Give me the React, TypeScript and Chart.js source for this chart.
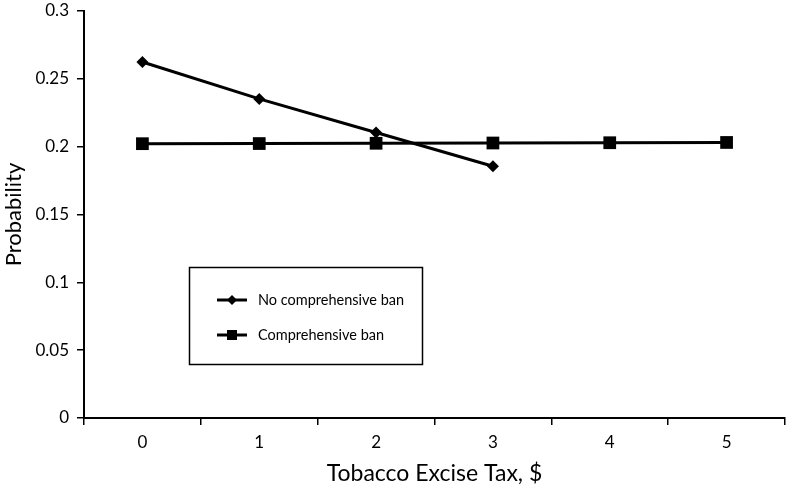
import React, { useEffect, useRef } from "react";
import { Chart, registerables } from "chart.js";

Chart.register(...registerables);

const categories = ["0", "1", "2", "3", "4", "5"];
const noBanValues: (number | null)[] = [0.2624, 0.2352, 0.2104, 0.1856, null, null];
const banValues = [0.2022, 0.2023, 0.2025, 0.2027, 0.2029, 0.2031];
const seriesLabels = ["No comprehensive ban", "Comprehensive ban"];
const xTitle = "Tobacco Excise Tax, $";
const yTitle = "Probability";

const FONT = "Lato, 'Open Sans', sans-serif";

const insideLegend = {
  id: "insideLegend",
  afterDraw(chart: any) {
    const ctx = chart.ctx;
    const x0 = 189, y0 = 267, w = 233, h = 97;
    ctx.save();
    ctx.fillStyle = "#fff";
    ctx.fillRect(x0, y0, w, h);
    ctx.strokeStyle = "#000";
    ctx.lineWidth = 1.5;
    ctx.strokeRect(x0 + 0.5, y0 + 0.5, w, h);
    chart.data.datasets.forEach((ds: any, i: number) => {
      const y = y0 + 33 + i * 35;
      ctx.strokeStyle = ds.borderColor;
      ctx.lineWidth = 3;
      ctx.beginPath();
      ctx.moveTo(x0 + 28, y);
      ctx.lineTo(x0 + 58, y);
      ctx.stroke();
      ctx.fillStyle = "#000";
      const cx = x0 + 43;
      if (i === 0) {
        const r = 5;
        ctx.beginPath();
        ctx.moveTo(cx, y - r);
        ctx.lineTo(cx + r, y);
        ctx.lineTo(cx, y + r);
        ctx.lineTo(cx - r, y);
        ctx.closePath();
        ctx.fill();
      } else {
        ctx.fillRect(cx - 5, y - 5, 10, 10);
      }
      ctx.font = `14.5px ${FONT}`;
      ctx.textBaseline = "middle";
      ctx.textAlign = "left";
      ctx.fillText(ds.label, x0 + 69, y);
    });
    ctx.restore();
  },
};

export default function App() {
  const ref = useRef<HTMLCanvasElement>(null);
  useEffect(() => {
    const chart = new Chart(ref.current!, {
      type: "line",
      data: {
        labels: categories,
        datasets: [
          {
            label: seriesLabels[0],
            data: noBanValues,
            borderColor: "#000",
            backgroundColor: "#000",
            borderWidth: 3,
            pointStyle: "rectRot",
            pointRadius: 6,
            pointBorderWidth: 0,
            tension: 0,
            spanGaps: false,
          },
          {
            label: seriesLabels[1],
            data: banValues,
            borderColor: "#000",
            backgroundColor: "#000",
            borderWidth: 3,
            pointStyle: "rect",
            pointRadius: 9,
            pointBorderWidth: 0,
            tension: 0,
          },
        ],
      },
      options: {
        animation: false,
        responsive: false,
        layout: { autoPadding: false, padding: { top: 11, right: 2, left: 1, bottom: -4 } },
        plugins: { legend: { display: false }, tooltip: { enabled: false } },
        scales: {
          x: {
            offset: true,
            afterFit: (s: any) => {
              s.paddingLeft = 0;
              s.paddingRight = 0;
            },
            grid: {
              offset: true,
              drawOnChartArea: false,
              drawTicks: true,
              tickLength: 7,
              color: "#000",
              lineWidth: 1.5,
            },
            border: { color: "#000", width: 2 },
            ticks: { color: "#000", font: { family: FONT, size: 17 }, padding: 7 },
            title: {
              display: true,
              text: xTitle,
              color: "#000",
              font: { family: FONT, size: 23 },
              padding: { top: 0, bottom: 2 },
            },
          },
          y: {
            min: 0,
            max: 0.3,
            afterFit: (s: any) => {
              s.paddingTop = 0;
              s.paddingBottom = 0;
            },
            ticks: {
              stepSize: 0.05,
              color: "#000",
              font: { family: FONT, size: 17 },
              padding: 8,
              callback: (v: any) => String(Number(Number(v).toFixed(2))),
            },
            grid: {
              drawOnChartArea: false,
              drawTicks: true,
              tickLength: 7,
              color: "#000",
              lineWidth: 1.5,
            },
            border: { color: "#000", width: 2 },
            title: {
              display: true,
              text: yTitle,
              color: "#000",
              font: { family: FONT, size: 22 },
              padding: { top: 0, bottom: 0 },
            },
          },
        },
      },
      plugins: [insideLegend],
    });
    return () => chart.destroy();
  }, []);
  return (
    <div style={{ position: "absolute", left: 0, top: 0, width: 787, height: 485, background: "#fff" }}>
      <canvas ref={ref} width={787} height={485} style={{ display: "block" }} />
    </div>
  );
}
